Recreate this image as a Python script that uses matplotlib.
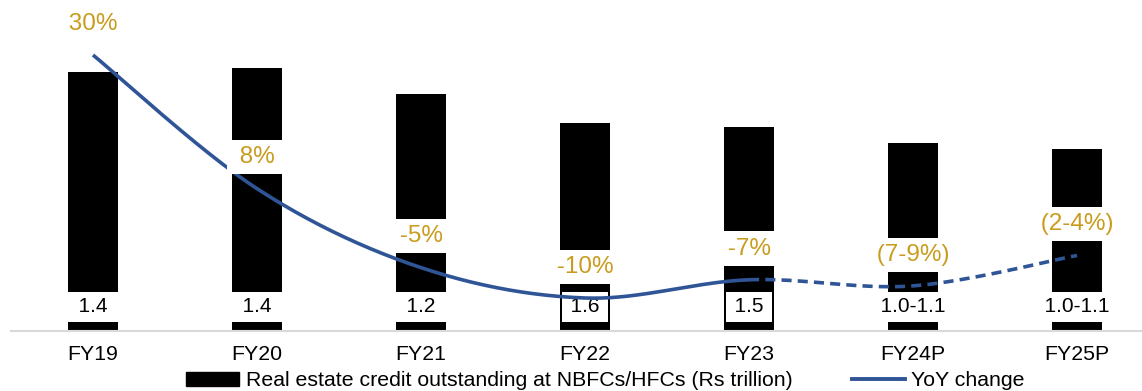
import numpy as np
import matplotlib
matplotlib.use("Agg")
import matplotlib.pyplot as plt
from matplotlib.lines import Line2D
from matplotlib.patches import Patch

plt.rcParams['font.family'] = ['Liberation Sans', 'DejaVu Sans']

years = ['FY19', 'FY20', 'FY21', 'FY22', 'FY23', 'FY24P', 'FY25P']
credit = [1.41, 1.43, 1.29, 1.13, 1.11, 1.02, 0.99]
credit_labels = ['1.4', '1.4', '1.2', '1.6', '1.5', '1.0-1.1', '1.0-1.1']
boxed = [False, False, False, True, True, False, False]
yoy = [30, 8, -5, -10, -7, -8, -3]
yoy_labels = ['30%', '8%', '-5%', '-10%', '-7%', '(7-9%)', '(2-4%)']
n_actual = 5  # FY19..FY23 actual, rest projected

BLUE = '#2F5597'
GOLD = '#C99C1E'

W, H = 1142, 391
fig = plt.figure(figsize=(W / 100, H / 100), dpi=100)
ax = fig.add_axes([11 / W, (H - 330.5) / H, (W - 11) / W, 330.5 / H])
ax2 = ax.twinx()

x = np.arange(len(years))
ax.bar(x, credit, width=0.31, color='black', zorder=1)
ax.set_xlim(-0.5, -0.5 + (W - 11) / 164)
ax.set_ylim(0, 330.5 / 183.6)
ax2.set_ylim(-10 - 32.5 / 6.075, 30 + 55 / 6.075)

for a in (ax, ax2):
    for s in ['top', 'right', 'left']:
        a.spines[s].set_visible(False)
    a.set_yticks([])
ax2.spines['bottom'].set_visible(False)
ax.spines['bottom'].set_color('#D9D9D9')
ax.spines['bottom'].set_linewidth(1.5)
ax.set_xticks(x)
ax.set_xticklabels(years, fontsize=15.3)
ax.tick_params(axis='x', length=0, pad=10.5)

# smoothed line (Excel style bezier), computed in pixel space
fig.canvas.draw()
pts = ax2.transData.transform(np.column_stack([x, yoy]))
ext = np.vstack([pts[0], pts, pts[-1]])
t = np.linspace(0, 1, 40)[:, None]
segs = []
for i in range(len(pts) - 1):
    p0, p1, p2, p3 = ext[i], ext[i + 1], ext[i + 2], ext[i + 3]
    c1 = p1 + (p2 - p0) / 6
    c2 = p2 - (p3 - p1) / 6
    seg = ((1 - t) ** 3) * p1 + 3 * ((1 - t) ** 2) * t * c1 + 3 * (1 - t) * t ** 2 * c2 + t ** 3 * p2
    segs.append(ax2.transData.inverted().transform(seg))
solid = np.vstack(segs[:n_actual - 1])
dashed = np.vstack(segs[n_actual - 1:])
ax2.plot(solid[:, 0], solid[:, 1], color=BLUE, lw=2.6, zorder=2, solid_capstyle='butt')
ax2.plot(dashed[:, 0], dashed[:, 1], color=BLUE, lw=2.6, zorder=2, dashes=(2.8, 1.7))

# yoy labels
for xi, v, lab in zip(x, yoy, yoy_labels):
    ax2.annotate(f' {lab} ', (xi, v), xytext=(0, 22.5), textcoords='offset points',
                 ha='center', va='center', fontsize=17.5, color=GOLD, zorder=4,
                 bbox=dict(boxstyle='square,pad=0.25', fc='white', ec='none'))

# credit value labels
for xi, lab, b in zip(x, credit_labels, boxed):
    txt = f'\u200a\u200a{lab}\u200a\u200a' if b else f'  {lab}  '
    ax.text(xi, (330.5 - 307) / 330.5, txt, transform=ax.get_xaxis_transform(),
            ha='center', va='center', fontsize=15, color='black', zorder=5,
            bbox=dict(boxstyle='square,pad=0.25', fc='white', ec='none'))

handles = [Patch(color='black'), Line2D([0], [0], color=BLUE, lw=2.8)]
fig.legend(handles, ['Real estate credit outstanding at NBFCs/HFCs (Rs trillion)', 'YoY change'],
           loc='center', bbox_to_anchor=(605.5 / W, 10 / H), ncol=2, frameon=False,
           fontsize=15.3, handlelength=2.5, handleheight=0.6, handletextpad=0.3,
           columnspacing=2.8)

fig.savefig('out.png', dpi=100)
